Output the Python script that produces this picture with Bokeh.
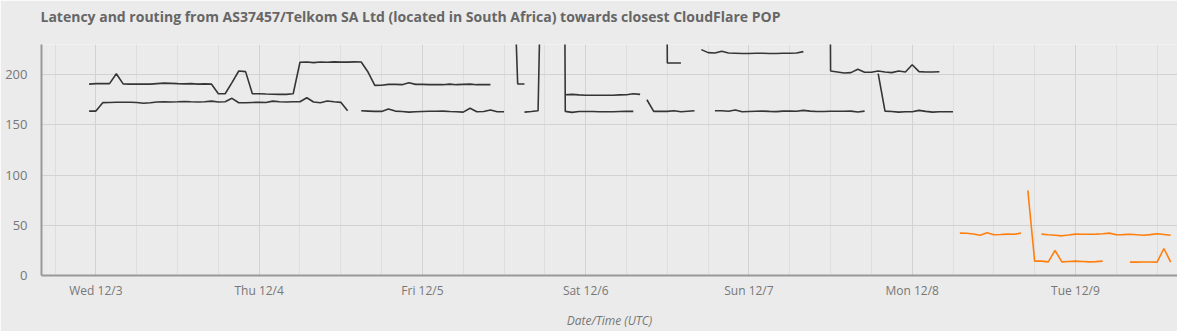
import numpy as np
from bokeh.plotting import figure
from bokeh.models import Range1d, FixedTicker, Title
from bokeh.embed import file_html
from bokeh.resources import INLINE

TITLE = "Latency and routing from AS37457/Telkom SA Ltd (located in South Africa) towards closest CloudFlare POP"
X_LABEL = "Date/Time (UTC)"

# hours since Wed 12/3 00:00 UTC
hours = list(range(-1, 159))

day_ticks = [0, 24, 48, 72, 96, 120, 144]
day_labels = ["Wed 12/3", "Thu 12/4", "Fri 12/5", "Sat 12/6", "Sun 12/7", "Mon 12/8", "Tue 12/9"]
six_hour_ticks = list(range(-6, 159, 6))
y_ticks = [0, 50, 100, 150, 200]

N = None
# route A (dark), upper path latency (ms), one value per hour from h=-1
route_a_upper = [
    190.5, 191, 191, 191, 200.9, 190.8, 190.5, 190.5, 190.5, 190.5,   # -1..8
    191, 191.5, 191.3, 191, 190.8, 191, 190.5, 190.8, 190.5, 181,     # 9..18
    181, 192, 203.6, 203, 181, 181, 180.7, 180.5, 180.3, 180.3,       # 19..28
    181, 212.3, 212.5, 212, 212.5, 212.3, 212.7, 212.5, 212.5, 212.7, # 29..38
    212.6, 202.6, 189.3, 189.5, 190.3, 190.3, 190, 192, 190.3, 190.3, # 39..48
    190, 190, 190, 190.5, 190, 190.3, 190.5, 190, 190, 190,           # 49..58
    N, N, 390, 190.6, 190.6, N, N, N, N, N,                           # 59..68
    180, 180.3, 179.8, 179.5, 179.5, 179.5, 179.5, 179.5, 179.8, 180, # 69..78
    181, 180.3, N, N, 1500, 211.6, 211.6, 211.6, N, N,                # 79..88
    224.9, 221.9, 221.6, 223.3, 221.6, 221.3, 221, 221, 221.3, 221.3, # 89..98
    221, 221, 221.3, 221.3, 221.6, 222.9, N, N, 1500, 203.6,          # 99..108
    202.6, 201.6, 202, 205.3, 202.3, 202.3, 203.6, 202.6, 202, 203.6, # 109..118
    202.6, 209.9, 203, 202.6, 202.6, 202.9, N, N, N, N,               # 119..128
] + [N] * 30                                                          # 129..158

# route A (dark), lower path latency (ms)
route_a_lower = [
    163.7, 163.7, 172.1, 172.3, 172.5, 172.5, 172.5, 172.3, 171.5, 172,  # -1..8
    172.8, 173, 172.8, 173, 173.3, 173, 172.8, 173, 173.6, 172.8,        # 9..18
    173, 176.4, 172, 172, 172.3, 172.5, 172.3, 173.6, 173, 172.8,        # 19..28
    173, 173, 177, 172.7, 172, 173.7, 173, 172.4, 164, N,                # 29..38
    164, 163.7, 163.4, 163.4, 165.7, 163.7, 163.3, 162.7, 163, 163.3,    # 39..48
    163.5, 163.5, 163.7, 163.3, 163, 162.7, 166.5, 163, 163.3, 164.7,    # 49..58
    163, 163, N, N, 162.7, 163.3, 164, 500, N, 1500,                     # 59..68
    163.4, 162.4, 163.3, 163.3, 163.3, 163, 163, 163, 163.3, 163.4,      # 69..78
    163.4, N, 175, 163.4, 163.4, 163.4, 164, 163, 163.5, 164,            # 79..88
    N, N, 164, 164, 163.5, 164.7, 163, 163.3, 163.5, 163.7,              # 89..98
    163.4, 163.2, 163.7, 163.8, 163.5, 164.4, 163.7, 163.3, 163.3, 163.5, # 99..108
    163.5, 163.5, 163.7, 162.8, 163.7, N, 201, 163.7, 163.3, 162.7,      # 109..118
    163, 163, 164.4, 163.4, 162.7, 163, 163, 163, N, N,                  # 119..128
] + [N] * 30                                                             # 129..158

# route B (orange), upper path latency (ms)
route_b_upper = [N] * 128 + [
    42.2, 42, 41.3, 40, 42.5, 40.5, 40.8, 41.2, 41, 42.2,   # 127..136
    N, N, 41.2, 40.5, 40, 39.5, 40.3, 41.2, 41, 41,         # 137..146
    41.2, 41.5, 42.2, 40.5, 40.7, 41, 40.5, 40, 40.7, 41.5, # 147..156
    40.8, 40,                                               # 157..158
]

# route B (orange), lower path latency (ms)
route_b_lower = [N] * 138 + [
    84.7, 14.3, 14.3, 13.6, 24.9, 13.6, 14, 14.3, 14, 13.6,  # 137..146
    13.8, 14.3, N, N, N, 13.3, 13.3, 13.5, 13.5, 13.3,       # 147..156
    26.9, 13.3,                                              # 157..158
]

DARK = "#353535"
ORANGE = "#ff7f0e"
BG = "#ebebeb"

p = figure(width=1177, height=331, output_backend="svg", toolbar_location=None,
           x_range=Range1d(-8, 159), y_range=Range1d(0, 230),
           background_fill_color=BG, border_fill_color=BG,
           min_border_left=41, min_border_right=0, min_border_top=44, min_border_bottom=56,
           outline_line_color=None)

p.title.text = TITLE
p.title.text_font = "Open Sans"
p.title.text_font_size = "14px"
p.title.text_font_style = "bold"
p.title.text_color = "#666666"
p.title.align = "left"
p.title.standoff = 0
p.title.offset = -1
# thin spacer between the title and the plot frame
p.add_layout(Title(text=" ", text_font_size="2px", standoff=15, text_color=BG), "above")

xt = FixedTicker(ticks=day_ticks, minor_ticks=six_hour_ticks)
p.xaxis.ticker = xt
p.xgrid.ticker = xt
p.xaxis.major_label_overrides = {t: l for t, l in zip(day_ticks, day_labels)}
yt = FixedTicker(ticks=y_ticks)
p.yaxis.ticker = yt
p.ygrid.ticker = yt

for ax in (p.xaxis, p.yaxis):
    ax.major_tick_line_color = None
    ax.minor_tick_line_color = None
    ax.major_tick_out = 0
    ax.minor_tick_out = 0
    ax.major_tick_in = 0
    ax.minor_tick_in = 0
    ax.axis_line_color = "#999999"
    ax.axis_line_width = 2
    ax.major_label_text_font = "Open Sans"
    ax.major_label_text_color = "#777777"
p.xaxis.major_label_text_font_size = "12px"
p.yaxis.major_label_text_font_size = "13px"
p.yaxis.major_label_standoff = 14
p.xaxis.major_label_standoff = 6
p.xaxis.axis_label = X_LABEL
p.xaxis.axis_label_text_font = "Open Sans"
p.xaxis.axis_label_text_font_size = "12px"
p.xaxis.axis_label_text_font_style = "italic"
p.xaxis.axis_label_text_color = "#777777"
p.xaxis.axis_label_standoff = 10

p.xgrid.grid_line_color = "#d2d2d2"
p.xgrid.minor_grid_line_color = "#dedede"
p.ygrid.grid_line_color = "#d2d2d2"

h = np.array(hours, dtype=float)
for series, color in ((route_a_upper, DARK), (route_a_lower, DARK),
                      (route_b_upper, ORANGE), (route_b_lower, ORANGE)):
    p.line(h, np.array(series, dtype=float), line_color=color, line_width=1.6)

open("out.html", "w").write(file_html(p, INLINE))
